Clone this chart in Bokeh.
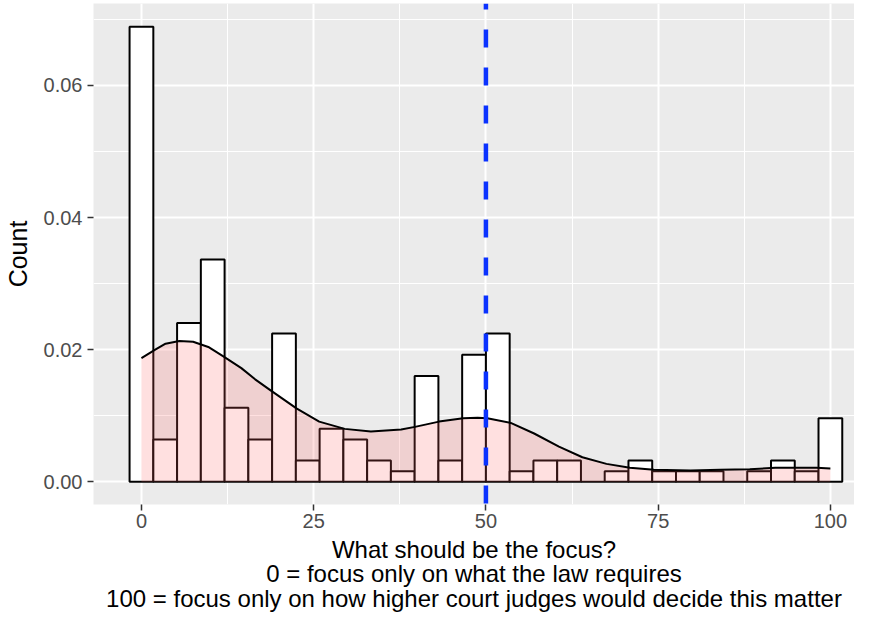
from bokeh.plotting import figure
from bokeh.models import FixedTicker, Range1d, ColumnDataSource
from bokeh.embed import file_html
from bokeh.resources import INLINE

# ---- data ----
bin_width = 100 / 29
bin_counts = [43, 4, 15, 21, 7, 4, 14, 2, 5, 4, 2, 1, 10, 2, 12, 14, 1, 2, 2, 0,
              1, 2, 1, 1, 1, 0, 1, 2, 1, 6]

dens_x = [0, 2, 3.5, 5.5, 7.5, 9.7, 12, 14.5, 16.5, 18.8, 22.5, 25.8, 29.5, 33.3,
          37.7, 39.7, 43.2, 46.7, 48.8, 50.2, 53.6, 57.0, 60.6, 64.0, 67.5, 70.9,
          74.4, 79.7, 84, 88.3, 92, 95.2, 98, 100]
dens_y = [0.0187, 0.0200, 0.0209, 0.0213, 0.0212, 0.0204, 0.0189, 0.0172, 0.0155,
          0.0138, 0.0111, 0.0091, 0.0080, 0.0076, 0.0079, 0.0083, 0.0091, 0.0096,
          0.0097, 0.0096, 0.0089, 0.0073, 0.0053, 0.0037, 0.0027, 0.0021, 0.0018,
          0.0017, 0.0018, 0.0019, 0.0021, 0.0021, 0.0021, 0.0020]

vline_x = 50

x_ticks = [0, 25, 50, 75, 100]
x_minor = [12.5, 37.5, 62.5, 87.5]
y_ticks = [0, 0.02, 0.04, 0.06]
y_minor = [0.01, 0.03, 0.05, 0.07]
y_tick_labels = ["0.00", "0.02", "0.04", "0.06"]

x_title_lines = ["What should be the focus?",
                 "0 = focus only on what the law requires",
                 "100 = focus only on how higher court judges would decide this matter"]
y_title = "Count"

# ---- derived histogram (density scale) ----
n_total = sum(bin_counts)
centers = [i * bin_width for i in range(len(bin_counts))]
hist = ColumnDataSource(dict(
    left=[c - bin_width / 2 for c in centers],
    right=[c + bin_width / 2 for c in centers],
    top=[c / (n_total * bin_width) for c in bin_counts],
))

FONT = "Liberation Sans"
y_lo, y_hi = -0.00345, 0.0724

p = figure(width=854, height=615, output_backend="svg", toolbar_location=None,
           x_range=Range1d(-6.96, 103.5), y_range=Range1d(y_lo, y_hi),
           min_border_left=92, min_border_right=0, min_border_top=3,
           min_border_bottom=100)
p.background_fill_color = "#EBEBEB"
p.border_fill_color = "white"
p.outline_line_color = None

xt = FixedTicker(ticks=x_ticks, minor_ticks=x_minor)
yt = FixedTicker(ticks=y_ticks, minor_ticks=y_minor)
p.xaxis.ticker = xt
p.yaxis.ticker = yt
p.xgrid.ticker = xt
p.ygrid.ticker = yt
for g in (p.xgrid, p.ygrid):
    g.grid_line_color = "white"
    g.grid_line_width = 2
    g.minor_grid_line_color = "white"
    g.minor_grid_line_width = 1

for ax in (p.xaxis, p.yaxis):
    ax.axis_line_color = None
    ax.major_tick_line_color = "#333333"
    ax.major_tick_line_width = 1.5
    ax.major_tick_out = 6
    ax.major_tick_in = 0
    ax.minor_tick_line_color = None
    ax.major_label_text_font = FONT
    ax.major_label_text_font_size = "20px"
    ax.major_label_text_color = "#4D4D4D"
    ax.axis_label_text_font = FONT
    ax.axis_label_text_font_size = "25px"
    ax.axis_label_text_font_style = "normal"
    ax.axis_label_text_color = "black"

p.yaxis.major_label_standoff = 5
p.yaxis.major_label_overrides = dict(zip(y_ticks, y_tick_labels))
p.yaxis.axis_label = y_title
p.yaxis.axis_label_standoff = 9

p.xaxis.major_label_standoff = 3
p.xaxis.axis_label = "\n".join(x_title_lines)
p.xaxis.axis_label_text_font_size = "24px"
p.xaxis.axis_label_standoff = 5
p.xaxis.axis_label_text_line_height = 0.92

# histogram
p.quad(left="left", right="right", top="top", bottom=0, source=hist,
       fill_color="white", line_color="black", line_width=2)
# density
p.varea(x=dens_x, y1=[0] * len(dens_x), y2=dens_y, fill_color="#FF6666", fill_alpha=0.2)
p.line(x=dens_x, y=dens_y, line_color="black", line_width=2)
# vertical reference line
p.line(x=[vline_x, vline_x], y=[y_hi, y_lo], line_color="#0A32FF", line_width=4.5,
       line_dash="18 20", line_dash_offset=12)

open("out.html", "w").write(file_html(p, INLINE))
